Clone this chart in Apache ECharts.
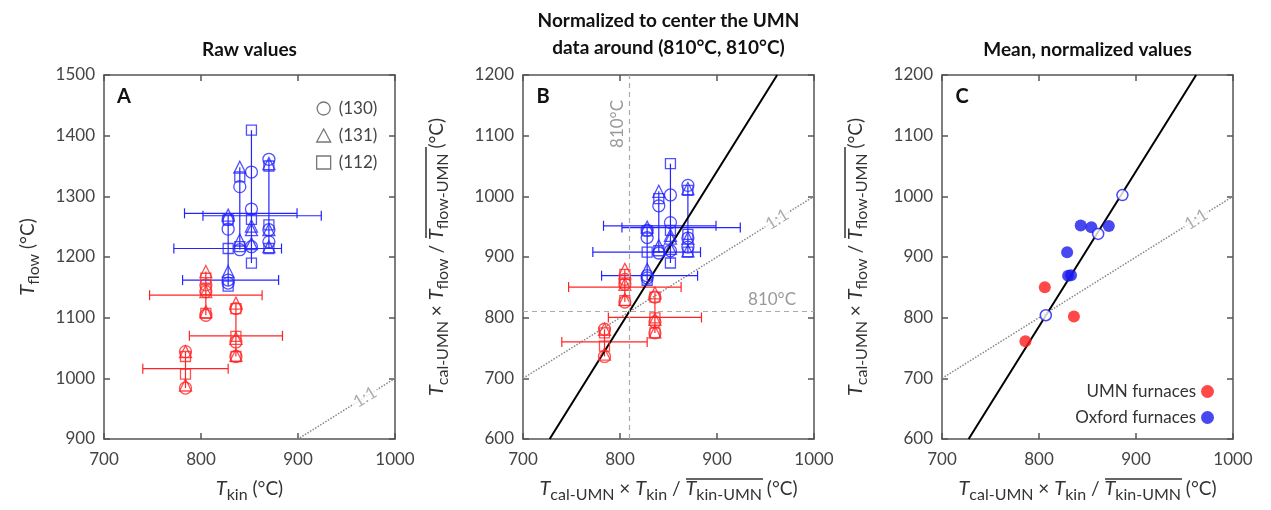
<!DOCTYPE html>
<html>
<head>
<meta charset="utf-8">
<script src="https://cdn.jsdelivr.net/npm/echarts@6/dist/echarts.min.js"></script>
<style>
  html, body { margin: 0; padding: 0; background: #fff; }
  #chart { width: 1271px; height: 510px; }
</style>
</head>
<body>
<div id="chart"></div>
<script>
// raw values (panel A), one column per furnace, y values per reflection
var umnTkin = [784, 805, 836];
var umnCircle = [[984, 1044], [1154, 1143, 1104], [1115, 1060, 1036]];
var umnTriangle = [[989, 1044], [1176, 1143, 1110], [1124, 1066, 1038]];
var umnSquare = [[1007, 1036], [1165, 1146, 1107], [1115, 1069, 1036]];
var umnErrBars = [[1016, 740, 828], [1137, 747, 863], [1070, 788, 884]]; // [Tflow, Tkin low, Tkin high]

var oxTkin = [828, 840, 852, 870];
var oxCircle = [[1262, 1246, 1162, 1157], [1316, 1212], [1340, 1279, 1217], [1361, 1245, 1225]];
var oxTriangle = [[1269, 1176], [1348, 1228], [1251, 1245, 1222], [1354, 1245, 1217]];
var oxSquare = [[1261, 1214, 1152], [1332, 1217], [1409, 1262, 1190], [1350, 1253, 1214]];
var oxErrBars = [[1272, 783, 899], [1268, 802, 924], [1214, 772, 883], [1162, 781, 880]];

// normalisation factors for panel B
var kinScaleB = 1.0;
var flowScaleB = 0.748;

// panel C means
var umnMean = [[786, 761], [806, 850], [836, 802]];
var oxMean = [[829, 908], [830, 869], [833, 870], [843, 952], [854, 949], [872, 951]];
var oxOpen = [[807, 804], [861, 938], [886, 1002]];

var oneToOne = [[700, 700], [1000, 1000]];
var fitLine = [[727.5, 600], [962, 1200]];
var centerT = 810;

var xTicks = [700, 1000, 100];
var yTicksA = [900, 1500, 100];
var yTicksBC = [600, 1200, 100];

var FONT = 'Lato, "Open Sans", sans-serif';
var RED = '#ff2424';
var BLUE = '#2424ff';
var GRAY_AX = '#555';

function columnPoints(xs, ys, kx, ky) {
    var out = [];
    xs.forEach(function (x, i) {
        ys[i].forEach(function (y) { out.push([x * kx, y * ky]); });
    });
    return out;
}

function columnRanges(xs, lists, kx, ky) {
    return xs.map(function (x, i) {
        var all = [];
        lists.forEach(function (l) { all = all.concat(l[i]); });
        return [x * kx, Math.min.apply(null, all) * ky, Math.max.apply(null, all) * ky];
    });
}

function scaledBars(bars, kx, ky) {
    return bars.map(function (b) { return [b[0] * ky, b[1] * kx, b[2] * kx]; });
}

function plainNumber(v) { return String(v); }

var richName = {
    it: { fontStyle: 'italic', fontSize: 20, color: '#333', fontFamily: FONT, lineHeight: 28 },
    sub: { fontSize: 16, color: '#333', fontFamily: FONT, lineHeight: 16, verticalAlign: 'bottom' },
    n: { fontSize: 19, color: '#333', fontFamily: FONT, lineHeight: 28 }
};

function xAxes(gi, nameText) {
    var base = {
        type: 'value', gridIndex: gi, min: xTicks[0], max: xTicks[1], interval: xTicks[2],
        axisLine: { show: true, onZero: false, lineStyle: { color: GRAY_AX, width: 1.5 } },
        axisTick: { show: true, inside: true, length: 6, lineStyle: { color: GRAY_AX, width: 1.5 } },
        splitLine: { show: false }
    };
    var bottom = Object.assign({}, base, {
        position: 'bottom',
        axisLabel: { color: '#444', fontSize: 17, margin: 12, fontFamily: FONT, formatter: plainNumber },
        name: nameText, nameLocation: 'middle', nameGap: 36,
        nameTextStyle: { fontFamily: FONT, fontSize: 19, color: '#333', rich: richName }
    });
    var top = Object.assign({}, base, { position: 'top', axisLabel: { show: false } });
    return [bottom, top];
}

function yAxes(gi, ticks, nameText, gap) {
    var base = {
        type: 'value', gridIndex: gi, min: ticks[0], max: ticks[1], interval: ticks[2],
        axisLine: { show: true, onZero: false, lineStyle: { color: GRAY_AX, width: 1.5 } },
        axisTick: { show: true, inside: true, length: 6, lineStyle: { color: GRAY_AX, width: 1.5 } },
        splitLine: { show: false }
    };
    var left = Object.assign({}, base, {
        position: 'left',
        axisLabel: { color: '#444', fontSize: 17, margin: 9, fontFamily: FONT, formatter: plainNumber },
        name: nameText, nameLocation: 'middle', nameGap: gap,
        nameTextStyle: { fontFamily: FONT, fontSize: 19, color: '#333', rich: richName }
    });
    var right = Object.assign({}, base, { position: 'right', axisLabel: { show: false } });
    return [left, right];
}

function markers(panel, name, symbol, size, color, data) {
    return {
        type: 'scatter', name: name, xAxisIndex: panel * 2, yAxisIndex: panel * 2,
        symbol: symbol, symbolSize: size, data: data, silent: true, z: 4,
        itemStyle: { color: 'transparent', borderColor: color, borderWidth: 1.3 }
    };
}

function hBars(panel, color, data) {
    return {
        type: 'custom', xAxisIndex: panel * 2, yAxisIndex: panel * 2, data: data, silent: true, z: 3,
        encode: { x: [1, 2], y: 0 },
        renderItem: function (params, api) {
            var y = api.value(0);
            var a = api.coord([api.value(1), y]);
            var b = api.coord([api.value(2), y]);
            var st = { stroke: color, lineWidth: 1.2 };
            var cap = 5;
            return {
                type: 'group', children: [
                    { type: 'line', shape: { x1: a[0], y1: a[1], x2: b[0], y2: b[1] }, style: st },
                    { type: 'line', shape: { x1: a[0], y1: a[1] - cap, x2: a[0], y2: a[1] + cap }, style: st },
                    { type: 'line', shape: { x1: b[0], y1: b[1] - cap, x2: b[0], y2: b[1] + cap }, style: st }
                ]
            };
        }
    };
}

function vLines(panel, color, data) {
    return {
        type: 'custom', xAxisIndex: panel * 2, yAxisIndex: panel * 2, data: data, silent: true, z: 3,
        encode: { x: 0, y: [1, 2] },
        renderItem: function (params, api) {
            var a = api.coord([api.value(0), api.value(1)]);
            var b = api.coord([api.value(0), api.value(2)]);
            return { type: 'line', shape: { x1: a[0], y1: a[1], x2: b[0], y2: b[1] },
                style: { stroke: color, lineWidth: 1.2 } };
        }
    };
}

function refLine(panel, data, style, extra) {
    return Object.assign({
        type: 'line', xAxisIndex: panel * 2, yAxisIndex: panel * 2, data: data,
        symbol: 'none', clip: true, silent: true, z: 2, lineStyle: style
    }, extra || {});
}

function ratioLabel(panel, at) {
    return {
        type: 'scatter', xAxisIndex: panel * 2, yAxisIndex: panel * 2, data: [[at, at]],
        symbolSize: 0, silent: true, z: 5,
        label: { show: true, position: 'inside', formatter: '1:1', rotate: 32, color: '#999',
            fontSize: 17, fontFamily: FONT, backgroundColor: '#fff', padding: [0, 2] }
    };
}

// panel series (A = 0, B = 1)
function panelSeries(panel, kx, ky) {
    var s = [];
    s.push(vLines(panel, RED, columnRanges(umnTkin, [umnCircle, umnTriangle, umnSquare], kx, ky)));
    s.push(vLines(panel, BLUE, columnRanges(oxTkin, [oxCircle, oxTriangle, oxSquare], kx, ky)));
    s.push(hBars(panel, RED, scaledBars(umnErrBars, kx, ky)));
    s.push(hBars(panel, BLUE, scaledBars(oxErrBars, kx, ky)));
    s.push(markers(panel, '(130)', 'circle', 12, RED, columnPoints(umnTkin, umnCircle, kx, ky)));
    s.push(markers(panel, '(131)', 'triangle', 12, RED, columnPoints(umnTkin, umnTriangle, kx, ky)));
    s.push(markers(panel, '(112)', 'rect', 10, RED, columnPoints(umnTkin, umnSquare, kx, ky)));
    s.push(markers(panel, '(130)', 'circle', 12, BLUE, columnPoints(oxTkin, oxCircle, kx, ky)));
    s.push(markers(panel, '(131)', 'triangle', 12, BLUE, columnPoints(oxTkin, oxTriangle, kx, ky)));
    s.push(markers(panel, '(112)', 'rect', 10, BLUE, columnPoints(oxTkin, oxSquare, kx, ky)));
    return s;
}

var dotted = { color: '#888', width: 1.5, type: 'dotted' };
var fitStyle = { color: '#000', width: 2 };
var dashedLabel = { show: true, formatter: '810°C', color: '#999', fontSize: 17, fontFamily: FONT };

var series = [];
series = series.concat(panelSeries(0, 1, 1));
series.push(refLine(0, oneToOne, dotted));
series.push(ratioLabel(0, 969));

series.push(refLine(1, oneToOne, dotted, {
    markLine: {
        symbol: 'none', silent: true, animation: false,
        lineStyle: { color: '#aaa', type: [5, 4], width: 1.2 },
        data: [
            { xAxis: centerT, label: Object.assign({ position: 'insideEndTop', distance: [25, 4] }, dashedLabel) },
            { yAxis: centerT, label: Object.assign({ position: 'insideEndTop', distance: [18, 4] }, dashedLabel) }
        ]
    }
}));
series = series.concat(panelSeries(1, kinScaleB, flowScaleB));
series.push(refLine(1, fitLine, fitStyle, { z: 3 }));
series.push(ratioLabel(1, 962));

series.push(refLine(2, oneToOne, dotted));
series.push(ratioLabel(2, 962));
series.push(refLine(2, fitLine, fitStyle, { z: 3 }));
series.push({
    type: 'scatter', name: 'UMN furnaces', xAxisIndex: 4, yAxisIndex: 4, data: umnMean,
    symbol: 'circle', symbolSize: 12, itemStyle: { color: '#ff1a1a' }, z: 4
});
series.push({
    type: 'scatter', name: 'Oxford furnaces', xAxisIndex: 4, yAxisIndex: 4, data: oxMean,
    symbol: 'circle', symbolSize: 12, itemStyle: { color: '#1a1aee' }, z: 4
});
series.push({
    type: 'scatter', xAxisIndex: 4, yAxisIndex: 4, data: oxOpen,
    symbol: 'circle', symbolSize: 11, itemStyle: { color: '#fff', borderColor: '#1a1aee', borderWidth: 1.5 }, z: 5
});

var hollowGray = { color: 'transparent', borderColor: '#555', borderWidth: 1.3 };

var yNameBC = '{it|T}{sub|cal-UMN} {n|× }{it|T}{sub|flow}{n| / }{it|T}{sub|flow-UMN}{n| (°C)}';
var xNameBC = '{it|T}{sub|cal-UMN} {n|× }{it|T}{sub|kin}{n| / }{it|T}{sub|kin-UMN}{n| (°C)}';

var titleFont = 'bold 19px ' + FONT;
var overline = { stroke: '#333', lineWidth: 1.5 };

var option = {
    animation: false,
    textStyle: { fontFamily: FONT },
    grid: [
        { left: 104, top: 75, width: 291, height: 364 },
        { left: 523, top: 75, width: 291, height: 364 },
        { left: 942, top: 75, width: 291, height: 364 }
    ],
    xAxis: [].concat(
        xAxes(0, '{it|T}{sub|kin}{n| (°C)}'),
        xAxes(1, xNameBC),
        xAxes(2, xNameBC)
    ),
    yAxis: [].concat(
        yAxes(0, yTicksA, '{it|T}{sub|flow}{n| (°C)}', 62),
        yAxes(1, yTicksBC, yNameBC, 72),
        yAxes(2, yTicksBC, yNameBC, 72)
    ),
    legend: [
        {
            data: [
                { name: '(130)', icon: 'circle', itemStyle: hollowGray },
                { name: '(131)', icon: 'triangle', itemStyle: hollowGray },
                { name: '(112)', icon: 'rect', itemStyle: hollowGray }
            ],
            orient: 'vertical', left: 311, top: 95, itemWidth: 14, itemHeight: 13, itemGap: 10,
            selectedMode: false,
            textStyle: { fontSize: 17, color: '#444', fontFamily: FONT, padding: [0, 0, 0, 3] }
        },
        {
            data: ['UMN furnaces', 'Oxford furnaces'],
            orient: 'vertical', align: 'right', right: 52, top: 378, itemWidth: 13, itemHeight: 13, itemGap: 9,
            icon: 'circle', selectedMode: false,
            textStyle: { fontSize: 17, color: '#333', fontFamily: FONT }
        }
    ],
    graphic: [
        { type: 'text', x: 249.5, y: 50, style: { text: 'Raw values', font: titleFont, fill: '#111', align: 'center', verticalAlign: 'middle' } },
        { type: 'text', x: 668.5, y: 21, style: { text: 'Normalized to center the UMN', font: titleFont, fill: '#111', align: 'center', verticalAlign: 'middle' } },
        { type: 'text', x: 668.5, y: 48, style: { text: 'data around (810°C, 810°C)', font: titleFont, fill: '#111', align: 'center', verticalAlign: 'middle' } },
        { type: 'text', x: 1087.5, y: 50, style: { text: 'Mean, normalized values', font: titleFont, fill: '#111', align: 'center', verticalAlign: 'middle' } },
        { type: 'text', x: 124, y: 97, style: { text: 'A', font: 'bold 20px ' + FONT, fill: '#111', align: 'center', verticalAlign: 'middle' } },
        { type: 'text', x: 543, y: 97, style: { text: 'B', font: 'bold 20px ' + FONT, fill: '#111', align: 'center', verticalAlign: 'middle' } },
        { type: 'text', x: 962, y: 97, style: { text: 'C', font: 'bold 20px ' + FONT, fill: '#111', align: 'center', verticalAlign: 'middle' } },
        { type: 'line', shape: { x1: 426, y1: 147, x2: 426, y2: 238 }, style: overline },
        { type: 'line', shape: { x1: 845, y1: 147, x2: 845, y2: 238 }, style: overline },
        { type: 'line', shape: { x1: 686, y1: 479, x2: 763, y2: 479 }, style: overline },
        { type: 'line', shape: { x1: 1105, y1: 479, x2: 1182, y2: 479 }, style: overline }
    ],
    series: series
};

var chart = echarts.init(document.getElementById('chart'));
chart.setOption(option);
</script>
</body>
</html>
